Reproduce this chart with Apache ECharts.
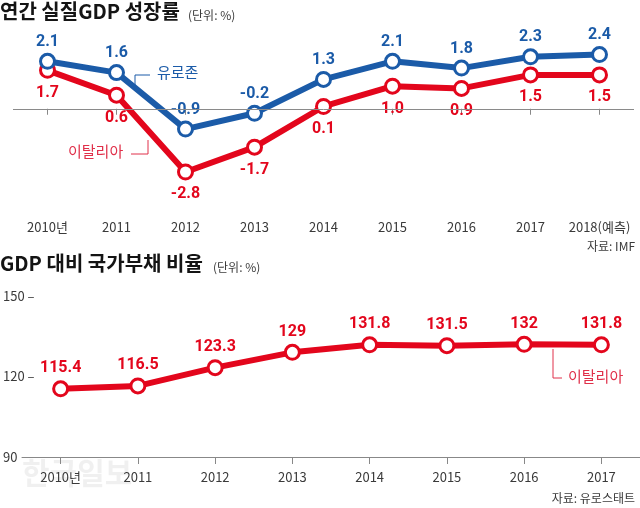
<!DOCTYPE html>
<html><head><meta charset="utf-8">
<script src="https://cdn.jsdelivr.net/npm/echarts@6/dist/echarts.min.js"></script>
<style>html,body{margin:0;padding:0;background:#fff}#c{width:640px;height:508px}</style>
</head><body><div id="c"></div>
<script>
const growthYears = ['2010년','2011','2012','2013','2014','2015','2016','2017','2018(예측)'];
const eurozoneGrowth = [2.1, 1.6, -0.9, -0.2, 1.3, 2.1, 1.8, 2.3, 2.4];
const italyGrowth = [1.7, 0.6, -2.8, -1.7, 0.1, 1.0, 0.9, 1.5, 1.5];
const debtYears = ['2010년','2011','2012','2013','2014','2015','2016','2017'];
const italyDebt = [115.4, 116.5, 123.3, 129, 131.8, 131.5, 132, 131.8];
const debtTicks = [90, 120, 150];

const BLUE = '#1b5ba8';
const RED = '#e3061c';
const KR = "'Noto Sans CJK KR', sans-serif";
const NUM = "Roboto, 'Noto Sans CJK KR', sans-serif";

const chart = echarts.init(document.getElementById('c'), null, {renderer: 'canvas'});

const axisLabelStyle = {color: '#3a3a3a', fontSize: 13, fontFamily: KR};

chart.setOption({
  backgroundColor: '#fff',
  animation: false,
  grid: [
    {left: 13, width: 621, top: 41, height: 166},
    {left: 19, width: 627, top: 296, height: 161}
  ],
  xAxis: [
    {
      gridIndex: 0, type: 'category', data: growthYears, boundaryGap: true,
      axisLine: {show: false},
      axisTick: {show: true, alignWithLabel: true, length: 6, lineStyle: {color: '#888'}},
      axisLabel: Object.assign({margin: 14, interval: 0}, axisLabelStyle)
    },
    {
      gridIndex: 1, type: 'category', data: debtYears, boundaryGap: true,
      axisLine: {show: true, lineStyle: {color: '#888', width: 1}},
      axisTick: {show: true, alignWithLabel: true, length: 7, lineStyle: {color: '#888'}},
      axisLabel: Object.assign({margin: 14, interval: 0}, axisLabelStyle)
    }
  ],
  yAxis: [
    {gridIndex: 0, type: 'value', min: -4.35, max: 3, show: false, splitLine: {show: false}},
    {
      gridIndex: 1, type: 'value', min: debtTicks[0], max: debtTicks[debtTicks.length - 1], interval: 30,
      axisLine: {show: false}, axisTick: {show: false}, splitLine: {show: false},
      axisLabel: {
        align: 'left', margin: 19, color: '#3a3a3a', fontSize: 13, fontFamily: KR,
        formatter: v => (debtTicks.indexOf(v) === 0 ? String(v) : v + ' –')
      }
    }
  ],
  series: [
    {
      name: '이탈리아', type: 'line', xAxisIndex: 0, yAxisIndex: 0, data: italyGrowth,
      symbol: 'circle', symbolSize: 14,
      lineStyle: {color: RED, width: 6},
      itemStyle: {color: '#fff', borderColor: RED, borderWidth: 3},
      label: {show: true, position: 'bottom', distance: 6, color: RED, fontSize: 16, fontWeight: 'bold', fontFamily: NUM,
        formatter: p => p.value.toFixed(1)},
      markLine: {
        silent: true, symbol: 'none', label: {show: false},
        lineStyle: {color: '#8a8a8a', width: 1, type: 'solid'},
        data: [{yAxis: 0}]
      },
      z: 2
    },
    {
      name: '유로존', type: 'line', xAxisIndex: 0, yAxisIndex: 0, data: eurozoneGrowth,
      symbol: 'circle', symbolSize: 14,
      lineStyle: {color: BLUE, width: 6},
      itemStyle: {color: '#fff', borderColor: BLUE, borderWidth: 3},
      label: {show: true, position: 'top', distance: 3, color: BLUE, fontSize: 16, fontWeight: 'bold', fontFamily: NUM,
        formatter: p => p.value.toFixed(1)},
      z: 3
    },
    {
      name: '국가부채', type: 'line', xAxisIndex: 1, yAxisIndex: 1, data: italyDebt,
      symbol: 'circle', symbolSize: 14,
      lineStyle: {color: RED, width: 6},
      itemStyle: {color: '#fff', borderColor: RED, borderWidth: 3},
      label: {show: true, position: 'top', distance: 4, color: RED, fontSize: 16, fontWeight: 'bold', fontFamily: NUM,
        formatter: p => String(p.value)},
      z: 3
    }
  ],
  graphic: [
    {type: 'text', left: 22, top: 458, z: -10, style: {text: '한국일보', font: "bold 30px 'Noto Sans CJK KR'", fill: 'rgba(0,0,0,0.06)'}},
    {type: 'text', left: 0, top: 1, style: {text: '연간 실질GDP 성장률', font: "bold 20px 'Noto Sans CJK KR'", fill: '#141414'}},
    {type: 'text', left: 188, top: 9, style: {text: '(단위: %)', font: "12px 'Noto Sans CJK KR'", fill: '#3a3a3a'}},
    {type: 'text', left: 0, top: 253, style: {text: 'GDP 대비 국가부채 비율', font: "bold 20px 'Noto Sans CJK KR'", fill: '#141414'}},
    {type: 'text', left: 213, top: 261, style: {text: '(단위: %)', font: "12px 'Noto Sans CJK KR'", fill: '#3a3a3a'}},
    {type: 'text', right: 5, top: 240, style: {text: '자료: IMF', font: "12px 'Noto Sans CJK KR'", fill: '#3a3a3a'}},
    {type: 'text', right: 5, top: 492, style: {text: '자료: 유로스태트', font: "12px 'Noto Sans CJK KR'", fill: '#3a3a3a'}},
    {type: 'polyline', shape: {points: [[135, 87], [135, 75], [150, 75]]}, style: {stroke: BLUE, lineWidth: 1, fill: null}},
    {type: 'text', left: 157, top: 65, style: {text: '유로존', font: "15px 'Noto Sans CJK KR'", fill: BLUE}},
    {type: 'polyline', shape: {points: [[148, 140], [148, 154], [131, 154]]}, style: {stroke: '#e0304a', lineWidth: 1, fill: null}},
    {type: 'text', left: 68, top: 144, style: {text: '이탈리아', font: "15px 'Noto Sans CJK KR'", fill: '#e0304a'}},
    {type: 'polyline', shape: {points: [[553, 349], [553, 378], [562, 378]]}, style: {stroke: '#e0304a', lineWidth: 1, fill: null}},
    {type: 'text', left: 568, top: 369, style: {text: '이탈리아', font: "15px 'Noto Sans CJK KR'", fill: '#e0304a'}}
  ]
});
</script>
</body></html>
